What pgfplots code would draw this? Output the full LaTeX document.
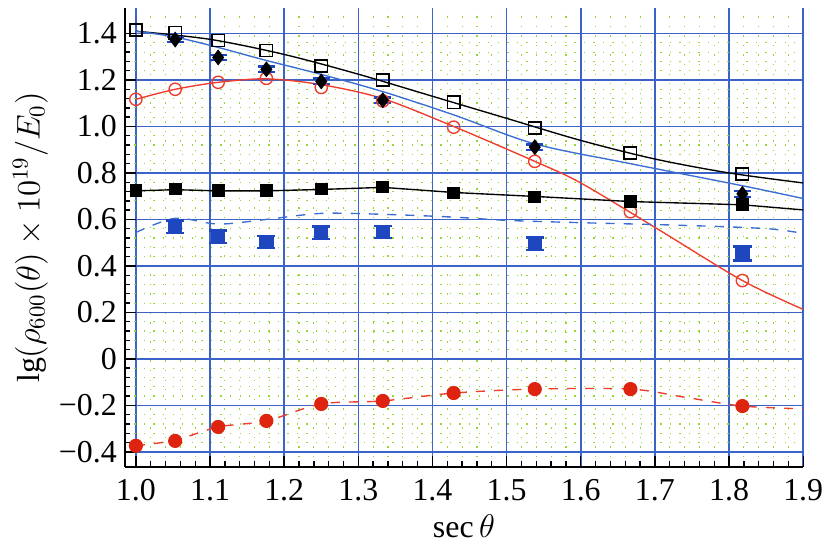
\documentclass[border=0pt]{standalone}
\usepackage{pgfplots}
\pgfplotsset{compat=1.18}
\usepackage{fontspec}
\setmainfont{Liberation Serif}
\definecolor{gridblue}{RGB}{60,100,200}
\definecolor{gridgreen}{RGB}{150,215,50}
\definecolor{lineblue}{RGB}{60,110,210}
\definecolor{sqblue}{RGB}{30,70,190}
\definecolor{myred}{RGB}{238,60,45}
\definecolor{dotred}{RGB}{222,35,15}
\begin{document}
\begin{tikzpicture}
\useasboundingbox (-54.8pt,-35.5pt) rectangle (306.7pt,205.1pt);
\begin{axis}[
 at={(0,0)}, anchor=south west,
 scale only axis, width=298pt, height=201.6pt,
 xmin=0.985, xmax=1.9, ymin=-0.465, ymax=1.51,
 axis x line*=bottom, axis y line*=left,
 axis line style={black, line width=0.8pt, -},
 xtick={1.0,1.1,1.2,1.3,1.4,1.5,1.6,1.7,1.8,1.9},
 xticklabels={1.0,1.1,1.2,1.3,1.4,1.5,1.6,1.7,1.8,1.9},
 ytick={-0.4,-0.2,0,0.2,0.4,0.6,0.8,1.0,1.2,1.4},
 yticklabels={−0.4,−0.2,0,0.2,0.4,0.6,0.8,1.0,1.2,1.4},
 minor x tick num=4, minor y tick num=4,
 grid=both,
 major grid style={gridblue, line width=0.7pt},
 minor grid style={gridgreen, line width=0.5pt, dash pattern=on 0.6pt off 3.6pt},
 tick style={black, line width=0.6pt},
 major tick length=5pt, minor tick length=2.5pt,
 tick align=inside,
 tick label style={font=\fontsize{14}{16}\selectfont},
 xticklabel style={yshift=-2pt},
 every axis label/.append style={font=\fontsize{14}{16}\selectfont},
 xlabel={$\sec\theta$},
 ylabel={$\lg(\rho_{600}(\theta)\times10^{19}/E_0)$},
 xlabel style={yshift=1pt},
 ylabel shift=-2pt,
]
% black curve (open squares)
\addplot[black, line width=0.6pt, smooth] coordinates {
(1.0,1.41)(1.1,1.375)(1.2,1.31)(1.3,1.225)(1.4,1.13)(1.5,1.035)(1.6,0.94)(1.7,0.86)(1.8,0.80)(1.9,0.757)};
% blue curve
\addplot[lineblue, line width=0.6pt, smooth] coordinates {
(1.0,1.41)(1.053,1.385)(1.111,1.34)(1.176,1.284)(1.25,1.224)(1.333,1.15)(1.4286,1.05)(1.538,0.925)(1.667,0.84)(1.818,0.745)(1.9,0.69)};
% red solid curve
\addplot[myred, line width=0.6pt, smooth] coordinates {
(1.0,1.117)(1.053,1.16)(1.111,1.19)(1.176,1.205)(1.25,1.18)(1.333,1.12)(1.4286,1.0)(1.538,0.85)(1.6,0.757)(1.7,0.566)(1.818,0.337)(1.9,0.213)};
% black filled squares line
\addplot[black, line width=0.6pt] coordinates {
(1.0,0.723)(1.053,0.728)(1.111,0.723)(1.176,0.723)(1.25,0.729)(1.333,0.738)(1.4286,0.716)(1.538,0.699)(1.667,0.677)(1.818,0.663)(1.9,0.641)};
% blue dashed curve
\addplot[lineblue, line width=0.6pt, dash pattern=on 4pt off 4pt, smooth] coordinates {
(1.0,0.544)(1.053,0.605)(1.111,0.58)(1.176,0.60)(1.25,0.626)(1.333,0.622)(1.4286,0.61)(1.5,0.596)(1.6,0.586)(1.7,0.578)(1.8,0.568)(1.86,0.558)(1.9,0.54)};
% red dashed curve
\addplot[myred, line width=0.6pt, dash pattern=on 4pt off 4pt, smooth] coordinates {
(1.0,-0.374)(1.053,-0.35)(1.111,-0.293)(1.176,-0.267)(1.25,-0.194)(1.333,-0.181)(1.4286,-0.147)(1.538,-0.13)(1.667,-0.13)(1.74,-0.165)(1.818,-0.203)(1.9,-0.215)};
% open squares
\addplot[only marks, mark=square, mark size=2.7pt, mark options={black, fill=white, line width=0.7pt}] coordinates {
(1.0,1.415)(1.053,1.404)(1.111,1.37)(1.176,1.327)(1.25,1.26)(1.333,1.20)(1.4286,1.104)(1.538,0.993)(1.667,0.886)(1.818,0.796)};
% open red circles
\addplot[only marks, mark=o, mark size=2.7pt, mark options={myred, fill=white, line width=0.6pt}] coordinates {
(1.0,1.117)(1.053,1.16)(1.111,1.19)(1.176,1.207)(1.25,1.168)(1.333,1.11)(1.4286,0.997)(1.538,0.85)(1.667,0.633)(1.818,0.337)};
% black diamonds with blue error bars
\addplot[only marks, mark=diamond*, mark size=3.2pt, mark options={black},
 error bars/.cd, y dir=both, y explicit, error bar style={sqblue, line width=0.8pt},
 error mark options={sqblue, rotate=90, mark size=3.8pt, line width=1pt}] coordinates {
(1.053,1.374) +- (0,0.012)
(1.111,1.297) +- (0,0.012)
(1.176,1.246) +- (0,0.012)
(1.25,1.194) +- (0,0.012)
(1.333,1.113) +- (0,0.012)
(1.538,0.911) +- (0,0.012)
(1.818,0.71) +- (0,0.012)};
% filled black squares
\addplot[only marks, mark=square*, mark size=2.6pt, mark options={black}] coordinates {
(1.0,0.723)(1.053,0.731)(1.111,0.723)(1.176,0.723)(1.25,0.731)(1.333,0.74)(1.4286,0.714)(1.538,0.697)(1.667,0.676)(1.818,0.663)};
% blue squares with error bars
\addplot[only marks, mark=square*, mark size=2.9pt, mark options={sqblue},
 error bars/.cd, y dir=both, y explicit, error bar style={sqblue, line width=0.8pt},
 error mark options={sqblue, rotate=90, mark size=4pt, line width=1pt}] coordinates {
(1.053,0.569) +- (0,0.026)
(1.111,0.526) +- (0,0.026)
(1.176,0.504) +- (0,0.026)
(1.25,0.543) +- (0,0.026)
(1.333,0.547) +- (0,0.026)
(1.538,0.496) +- (0,0.026)
(1.818,0.453) +- (0,0.03)};
% red filled circles
\addplot[only marks, mark=*, mark size=2.9pt, mark options={dotred}] coordinates {
(1.0,-0.374)(1.053,-0.353)(1.111,-0.293)(1.176,-0.267)(1.25,-0.194)(1.333,-0.181)(1.4286,-0.147)(1.538,-0.13)(1.667,-0.13)(1.818,-0.203)};
\end{axis}
\end{tikzpicture}
\end{document}
